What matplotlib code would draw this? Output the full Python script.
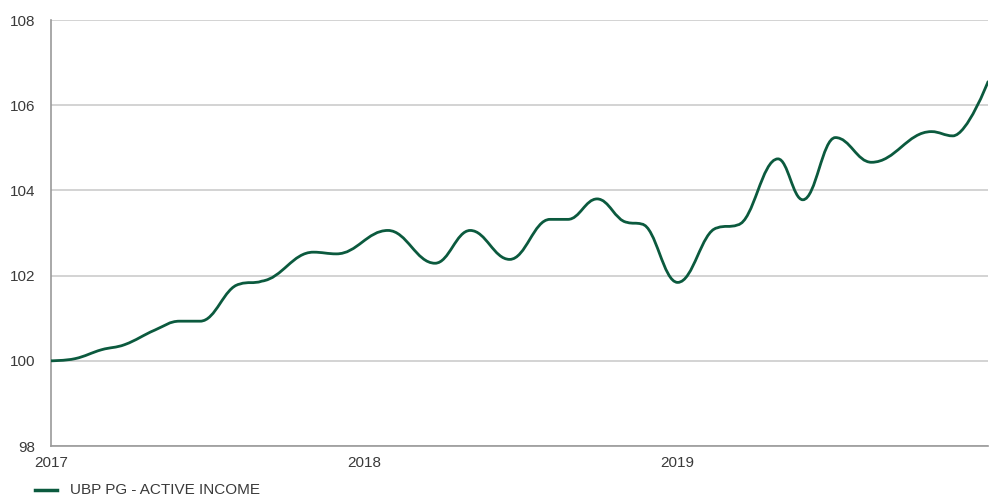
import numpy as np
import matplotlib

matplotlib.use("Agg")
import matplotlib.pyplot as plt
import matplotlib.dates as mdates
from matplotlib.path import Path
from matplotlib.patches import PathPatch
from matplotlib.lines import Line2D

plt.rcParams.update({
    "font.family": ["Liberation Sans", "DejaVu Sans"],
    "font.size": 11,
    "text.color": "#3a3a3a",
    "figure.facecolor": "white",
})

DATES = ["2017-01-01", "2017-01-29", "2017-03-01", "2017-03-28", "2017-05-02",
         "2017-05-31", "2017-06-24", "2017-08-09", "2017-09-04", "2017-11-03",
         "2017-11-30", "2018-01-29", "2018-03-25", "2018-05-05", "2018-06-20",
         "2018-08-06", "2018-08-27", "2018-09-30", "2018-11-04", "2018-11-21",
         "2019-01-02", "2019-02-17", "2019-03-13", "2019-04-29", "2019-05-28",
         "2019-07-05", "2019-08-16", "2019-10-25", "2019-11-19", "2019-12-30"]
VALUES = [100.00, 100.05, 100.26, 100.38, 100.72,
          100.93, 100.93, 101.80, 101.87, 102.55,
          102.51, 103.06, 102.29, 103.06, 102.38,
          103.32, 103.32, 103.80, 103.25, 103.21,
          101.84, 103.12, 103.19, 104.74, 103.78,
          105.24, 104.66, 105.38, 105.28, 106.55]
SERIES = "UBP PG - ACTIVE INCOME"
YEARS = ["2017", "2018", "2019"]
Y_TICKS = [98, 100, 102, 104, 106, 108]

GREEN = "#0b5a3e"


def spline_path(x, y, smoothing=1.5):
    # smooth curve through the points, flat at local extremes
    n = len(x)
    denom = smoothing + 1
    lc = [(x[i], y[i]) for i in range(n)]
    rc = [(x[i], y[i]) for i in range(n)]
    for i in range(1, n - 1):
        lx = (smoothing * x[i] + x[i - 1]) / denom
        ly = (smoothing * y[i] + y[i - 1]) / denom
        rx = (smoothing * x[i] + x[i + 1]) / denom
        ry = (smoothing * y[i] + y[i + 1]) / denom
        corr = (ry - ly) * (rx - x[i]) / (rx - lx) + y[i] - ry
        ly += corr
        ry += corr
        if ly > y[i - 1] and ly > y[i]:
            ly = max(y[i - 1], y[i]); ry = 2 * y[i] - ly
        elif ly < y[i - 1] and ly < y[i]:
            ly = min(y[i - 1], y[i]); ry = 2 * y[i] - ly
        if ry > y[i + 1] and ry > y[i]:
            ry = max(y[i + 1], y[i]); ly = 2 * y[i] - ry
        elif ry < y[i + 1] and ry < y[i]:
            ry = min(y[i + 1], y[i]); ly = 2 * y[i] - ry
        lc[i] = (lx, ly)
        rc[i] = (rx, ry)
    verts = [(x[0], y[0])]
    codes = [Path.MOVETO]
    for i in range(1, n):
        verts += [rc[i - 1], lc[i], (x[i], y[i])]
        codes += [Path.CURVE4] * 3
    return Path(verts, codes)


xs = mdates.date2num(np.array(DATES, dtype="datetime64[D]"))
ys = np.array(VALUES)

fig = plt.figure(figsize=(9.94, 5.0), dpi=100)
ax = fig.add_axes([51 / 994, 1 - 446 / 500, 937 / 994, 426 / 500])

ax.add_patch(PathPatch(spline_path(xs, ys), fill=False, edgecolor=GREEN,
                       lw=2.0, capstyle="round", joinstyle="round", zorder=3))

ax.set_xlim(xs[0], xs[-1])
ax.set_ylim(98, 108)
ax.set_yticks(Y_TICKS)
ax.set_xticks(mdates.date2num(np.array([y + "-01-01" for y in YEARS],
                                       dtype="datetime64[D]")))
ax.set_xticklabels(YEARS)
ax.tick_params(length=0, labelsize=11, colors="#3a3a3a")
ax.tick_params(axis="y", pad=11)
ax.tick_params(axis="x", pad=7)
ax.grid(axis="y", color="#cccccc", lw=1.2)
ax.set_axisbelow(True)
for side in ["top", "right"]:
    ax.spines[side].set_visible(False)
for side in ["left", "bottom"]:
    ax.spines[side].set_color("#999999")
    ax.spines[side].set_linewidth(1.2)

fig.add_artist(Line2D([35 / 994, 57 / 994], [0.02, 0.02], color=GREEN, lw=2.5))
fig.text(70 / 994, 0.02, SERIES, va="center", ha="left", fontsize=11)

fig.savefig("out.png", dpi=100)
